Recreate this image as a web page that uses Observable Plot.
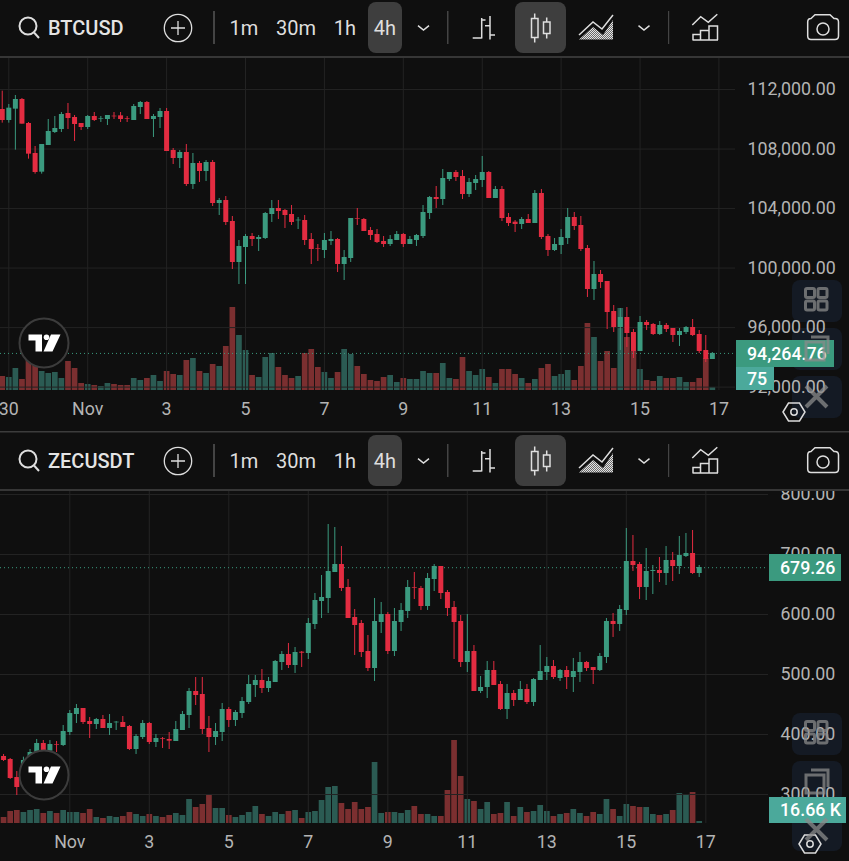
<!DOCTYPE html>
<html><head><meta charset="utf-8">
<script src="https://cdn.jsdelivr.net/npm/d3@7"></script>
<script src="https://cdn.jsdelivr.net/npm/@observablehq/plot@0.6"></script>
<style>
html,body{margin:0;padding:0;background:#0f0f0f;overflow:hidden}
#page{position:relative;width:849px;height:861px;overflow:hidden;background:#0f0f0f}
#page>svg,#page>div{position:absolute;left:0}
</style></head><body><div id="page"></div>
<script>
const FONT = "Roboto, 'Noto Sans', sans-serif";
const UP = "#3b9a7f", DOWN = "#e32c41", VOL_UP = "#2b5b53", VOL_DOWN = "#7b2f30", GRID = "#232323", LABEL = "#b4b4b4";

// BTCUSD, 4h candles, first candle 4h before 30 Oct 00:00
const btcStart = -1;
const btcOpen = [110656,109917,110679,111328,109715,107699,106445,108237,109111,109312,110387,110119,109715,109447,110186,110007,109984,110208,110231,110051,109917,110791,111127,109984,110119,110522,107901,107363,107766,105616,107027,106490,107095,104339,104541,103130,100375,101383,102122,101920,101987,103600,104003,103869,103600,103175,103197,101920,101315,101181,101786,101920,100240,100643,103331,103264,102525,102256,101786,101584,101853,102256,101584,101853,102122,103667,104743,104608,105952,106423,106154,104944,105683,105885,106423,104675,105280,103399,103085,102928,103264,102995,105011,102122,101181,101517,101987,103399,102861,101315,98560,99568,99098,97082,96007,96678,95670,94394,96343,96208,95536,96141,95939,95469,95670,96007,95536,94461,93856];
const btcHigh = [111888,110992,111597,111395,109783,108170,108304,109984,110186,110455,111059,110253,109715,110253,110455,110186,110253,110455,110455,110186,110992,111194,111194,110320,110723,110723,108035,107901,108304,107699,107162,107229,107229,104675,104810,103466,101853,102256,102323,102189,103735,104541,104541,103936,104205,103399,103533,102323,101584,102323,102458,101987,101181,103331,104003,103331,102726,102592,102122,102189,102458,102323,102122,102256,104205,104810,105482,106624,106423,106557,106557,106019,106221,107498,106490,105482,105482,103667,103197,103399,103600,105213,105280,102256,101987,102592,104003,103735,103466,101517,100442,99837,99098,97485,97283,97350,95872,96746,96477,96275,96410,96275,95939,95939,96074,96544,95805,95469,94326];
const btcLow = [109738,109738,107923,109671,107318,106311,106311,108237,109043,109111,109312,108506,109245,109312,109850,109783,109581,109984,109783,109783,109917,110320,109984,108775,109379,107834,106960,106691,105482,105280,105751,105818,104138,103533,102861,99904,98896,98896,101450,101114,101920,103063,103264,102659,102861,102592,101517,100240,100442,100643,101517,99703,99165,100375,102861,102458,101853,101651,101383,101450,101853,101383,101584,101450,101987,103264,104003,104205,105818,105818,104608,104743,105213,105415,104675,104675,103130,102794,102390,102592,102995,102995,101920,100778,101114,100912,101584,102525,101114,98023,97821,98627,95872,95670,94461,94663,93923,94394,95805,95469,95469,95670,94998,94730,95536,95402,94259,93655,93856];
const btcClose = [109917,110746,111328,109671,107654,106423,108304,109178,109379,110320,110051,109648,109447,110186,109917,110051,110253,110163,109984,110007,110858,111127,109984,110186,110522,107834,107363,107766,105616,107027,106490,107095,104339,104541,103063,100375,101450,102122,101920,102055,103667,104003,103802,103533,103063,103219,101853,101248,101271,101853,101920,100240,100711,103331,103287,102458,102189,101718,101584,101920,102256,101584,101920,102189,103735,104743,104608,106019,106423,106087,104944,105751,105952,106423,104675,105280,103331,102995,102928,103264,102995,105011,102055,101181,101584,102055,103399,102794,101248,98560,99568,99030,97015,96007,96678,95603,94394,96343,96141,95536,96141,95872,95469,95738,96007,95469,94394,93856,94264.76];
const btcVolume = [350,325,550,275,750,625,475,425,450,300,725,550,175,150,125,100,175,150,125,125,300,250,300,375,225,475,400,375,750,800,475,425,650,600,1100,2075,1375,1000,375,325,825,925,575,375,300,350,925,1025,575,450,300,450,1025,900,600,400,250,225,325,375,200,300,275,275,475,425,425,675,300,275,825,475,375,525,325,175,525,525,400,300,175,275,550,650,350,400,500,250,600,1675,1325,725,975,550,2050,1325,975,525,250,225,350,300,300,325,200,200,300,800,75];
const btcTicks = [92000,96000,100000,104000,108000,112000];
const btcLast = 94264.76;

// ZECUSDT, 4h candles, first candle 8h after 30 Oct 00:00
const zecStart = 2;
const zecOpen = [363.3,358.3,328.3,323.3,356.7,368.3,385,372.2,383.3,381.7,403.3,433.3,443.3,421.7,416.7,425,410,419.4,420,413.3,375,395,418.3,386.7,393.3,391.7,388.3,406.7,431.7,471.7,466.7,410,395,403.3,441.7,423.3,435,453.3,481.7,490,476.7,486.7,520,533.3,515,537.2,535,583.3,621.7,626.7,670,683.3,645,595,585,538.3,510,586.7,600,538.3,586.7,605,645,643.3,613.3,658.3,680,636.7,611.7,588.3,520,538.3,471.7,478.3,506.7,483.3,441.7,468.3,456.7,475,453.3,490,503.3,513.3,493.3,506.7,495,503.3,520,511.7,506.7,528.3,588.3,583.3,606.7,688.3,683.3,645,671.7,673.3,668.3,690,680,696.7,701.7,668.3];
const zecHigh = [366.7,360,338.3,362.2,375,391.7,390,390,388.3,415,440,450,443.3,428.3,426.7,431.7,433.3,421.7,430,415,400,423.3,420,400,395,403.3,421.7,438.3,476.7,495,495,430,418.3,451.7,445,440,461.7,498.3,498.3,508.3,495,523.3,538.3,551.7,545,538.3,593.3,635,665,750,745,713.3,658.3,608.3,590,565,626.7,620,603.3,610,618.3,656.7,670,646.7,668.3,683.3,680,640,621.7,598.3,600,548.3,496.7,521.7,521.7,488.3,483.3,473.3,488.3,483.3,493.3,548.3,528.3,523.3,508.3,513.3,526.7,536.7,521.7,511.7,535,593.3,601.7,615,743.3,731.7,686.7,710,681.7,695,713.3,703.3,730,735,740,681.7];
const zecLow = [355,325,298.3,315,351.1,365,367.8,367.8,370,380,398.3,418.3,416.7,393.3,408.3,410,398.3,406.7,411.7,373.3,366.7,391.7,383.3,378.3,376.7,375,388.3,406.7,410,448.3,400,370,381.7,388.3,411.7,413.3,426.7,450,461.7,468.3,470,486.7,506.7,510,501.7,511.7,525,575,593.3,601.7,670,638.3,593.3,531.7,528.3,505,488.3,568.3,533.3,530,571.7,593.3,625,606.7,606.7,638.3,625,596.7,525,511.7,503.3,471.7,468.3,460,481.7,440,425,446.7,456.7,450,446.7,490,490,491.7,488.3,475,470,486.7,505,483.3,505,518.3,561.7,571.7,598.3,671.7,625,623.3,633.3,653.3,648.3,655,666.7,695,666.7,661.7];
const zecClose = [356.7,326.7,311.7,356.7,370,385,372.2,383.3,382.2,405,435,443.3,420,416.7,425,410,418.3,420.6,411.7,375,396.7,418.3,386.7,393.3,392.2,388.9,408.3,433.3,471.7,465,408.3,395,405,441.7,423.3,436.7,455,483.3,490,476.7,488.3,521.7,533.3,515,536.7,535.5,585,623.3,628.3,671.7,683.3,643.3,593.3,581.7,536.7,510,588.3,600,538.3,588.3,606.7,645,643.9,613.3,660,680,635,610,586.7,520,538.3,471.7,478.3,506.7,481.7,441.7,468.3,456.7,475,453.3,491.7,505,513.3,495,506.7,495,505,520,510,506.7,530,588.3,583.3,608.3,688.3,681.7,645,671.7,673.3,668.3,690,680,698.3,701.7,668.3,678.3];
const zecVolume = [50,100,108.3,91.6,108.3,116.6,83.3,100,83.3,108.3,91.6,91.6,83.3,116.6,50,41.7,58.3,50,58.3,91.6,75,58.3,75,58.3,50,66.6,83.3,66.6,200,133.3,158.3,233.3,125,125,66.6,50,66.6,91.6,141.6,75,58.3,91.6,75,100,108.3,41.7,91.6,100,191.6,300,308.3,166.6,116.6,175,116.6,133.3,508.2,83.3,91.6,91.6,83.3,108.3,141.6,75,75,58.3,58.3,274.9,691.5,391.6,200,183.3,116.6,175,75,83.3,175,58.3,133.3,91.6,100,150,100,58.3,75,83.3,116.6,83.3,58.3,91.6,75,200,116.6,58.3,158.3,141.6,133.3,133.3,75,66.6,75,108.3,249.9,233.3,258.3,16.66];
const zecTicks = [300,400,500,600,700,800];
const zecLast = 678;

const dayTicks = ["2025-10-30","2025-11-01","2025-11-03","2025-11-05","2025-11-07","2025-11-09","2025-11-11","2025-11-13","2025-11-15","2025-11-17"].map(d => new Date(d + "T00:00:00Z"));
const dayLabels = ["30","Nov","3","5","7","9","11","13","15","17"];

const t0 = Date.UTC(2025, 9, 30), H4 = 4 * 3600e3;
const at = k => new Date(t0 + k * H4);
const rowsOf = (start, o, h, l, c, v) => o.map((d, i) => ({t: at(start + i), o: d, h: h[i], l: l[i], c: c[i], v: v[i]}));

const page = document.getElementById("page");
const NS = "http://www.w3.org/2000/svg";

function panel({rows, top, height, marginBottom, marginRight, kDomain, yDomain, volMax, ticks, last}) {
  const common = {width: 849, height, marginTop: 0, marginBottom, marginLeft: 0, marginRight,
    style: {background: "transparent", fontFamily: FONT}};
  const xDomain = kDomain.map(at);
  const up = rows.filter(d => d.c >= d.o), down = rows.filter(d => d.c < d.o);
  const vols = Plot.plot({...common, x: {type: "utc", domain: xDomain, axis: null}, y: {domain: [0, volMax], axis: null}, marks: [
    Plot.ruleX(up, {x: "t", y1: 0, y2: "v", stroke: VOL_UP, strokeWidth: 5.7, clip: true}),
    Plot.ruleX(down, {x: "t", y1: 0, y2: "v", stroke: VOL_DOWN, strokeWidth: 5.7, clip: true})
  ]});
  const price = Plot.plot({...common, x: {type: "utc", domain: xDomain}, y: {domain: yDomain}, marks: [
    Plot.gridX(dayTicks, {stroke: GRID, strokeOpacity: 1}),
    Plot.gridY(ticks, {stroke: GRID, strokeOpacity: 1}),
    Plot.ruleY([last], {stroke: UP, strokeDasharray: "1 3", strokeWidth: 1}),
    Plot.ruleX(up, {x: "t", y1: "l", y2: "h", stroke: UP, strokeWidth: 1, clip: true}),
    Plot.ruleX(down, {x: "t", y1: "l", y2: "h", stroke: DOWN, strokeWidth: 1, clip: true}),
    Plot.ruleX(up, {x: "t", y1: "o", y2: "c", stroke: UP, strokeWidth: 5, clip: true}),
    Plot.ruleX(down, {x: "t", y1: "o", y2: "c", stroke: DOWN, strokeWidth: 5, clip: true}),
    Plot.axisY(ticks, {anchor: "right", tickSize: 0, tickPadding: 12, label: null, fill: LABEL, fontSize: 17.8, tickFormat: d3.format(",.2f")}),
    Plot.axisX(dayTicks, {anchor: "bottom", tickSize: 0, tickPadding: 12, label: null, fill: LABEL, fontSize: 17.8, tickFormat: (d, i) => dayLabels[dayTicks.findIndex(t => +t === +d)]})
  ]});
  for (const p of [vols, price]) { p.style.position = "absolute"; p.style.top = top + "px"; p.style.left = "0"; }
  return [vols, price];
}

const cog = (x, y) => `<g fill="none" stroke="#dcdcdc" stroke-width="1.5"><path d="M${x-11} ${y} L${x-5.5} ${y-9} L${x+5.5} ${y-9} L${x+11} ${y} L${x+5.5} ${y+9} L${x-5.5} ${y+9} Z"/><circle cx="${x}" cy="${y}" r="3.2"/></g>`;

function under(tops) {
  return tops.map(t => `<rect x="792" y="${t}" width="50" height="42" rx="8" fill="#141a24"/>`).join("");
}
function floating(tops) {
  const [a, b, c] = tops;
  const col = "#8a8a8a";
  const sq = (x, y) => `<rect x="${x}" y="${y}" width="9" height="9" rx="1.5" fill="none" stroke="${col}" stroke-width="3"/>`;
  return `<g opacity=".75">${sq(805.5, a+8.5)}${sq(818, a+8.5)}${sq(805.5, a+21)}${sq(818, a+21)}
    <path d="M811 ${b+9} H828 V${b+26}" fill="none" stroke="${col}" stroke-width="3"/>
    <rect x="806" y="${b+14}" width="18" height="18" fill="none" stroke="${col}" stroke-width="3"/>
    <path d="M806 ${c+10} L827 ${c+31} M827 ${c+10} L806 ${c+31}" stroke="${col}" stroke-width="4"/></g>`;
}
function logo(dy) {
  return `<g transform="translate(0 ${dy})"><circle cx="44" cy="343" r="24.5" fill="#0f0f0f" stroke="#3c3c3c" stroke-width="2"/>
    <path d="M28.5 334.5 H42 V351.5 H35.5 V340.5 H28.5 Z" fill="#fff"/><circle cx="46.5" cy="337.3" r="2.8" fill="#fff"/>
    <path d="M51 334.5 H60.5 L52.5 351.5 H43.5 Z" fill="#fff"/></g>`;
}
function toolbar(dy, sym) {
  const s = 'stroke="#dedede" fill="none"';
  const tf = (x, t) => `<text x="${x}" y="35" text-anchor="middle" font-size="20" fill="#dedede">${t}</text>`;
  return `<g transform="translate(0 ${dy})" font-family="${FONT.replace(/'/g, "")}">
    <circle cx="28" cy="26" r="8.5" ${s} stroke-width="2"/><path d="M34 32.5 L39 38" ${s} stroke-width="2"/>
    <text x="48" y="35" font-size="20" font-weight="500" fill="#e4e4e4">${sym}</text>
    <circle cx="178" cy="28" r="13.7" ${s} stroke-width="1.3"/><path d="M171 28 H185 M178 21 V35" ${s} stroke-width="1.3"/>
    <rect x="213" y="11" width="2" height="33" fill="#444"/>
    ${tf(244, "1m")}${tf(296, "30m")}${tf(345, "1h")}
    <rect x="368" y="2" width="34" height="51" rx="8" fill="#3e3e3e"/>${tf(385, "4h")}
    <path d="M418 25.7 L423.5 30 L429 25.7" ${s} stroke-width="1.5"/>
    <rect x="447" y="11" width="1.5" height="33" fill="#444"/>
    <path d="M481.7 18 V38.5 M481.7 20 H485.5 M472.7 38 H481.7 M490 16 V39.5 M485 25.7 H490 M490 35 H495" ${s} stroke-width="1.5"/>
    <rect x="515" y="2" width="51" height="51" rx="8" fill="#3e3e3e"/>
    <rect x="531.5" y="18.5" width="6.5" height="19" ${s} stroke-width="1.5"/><path d="M534.7 13.5 V18.5 M534.7 37.5 V42.5" ${s} stroke-width="1.5"/>
    <rect x="543.5" y="22" width="6.5" height="11.5" ${s} stroke-width="1.5"/><path d="M546.7 17.5 V22 M546.7 33.5 V38.5" ${s} stroke-width="1.5"/>
    <path d="M579 35 L593 22 L602 29 L613 15" ${s} stroke-width="1.5"/>
    <path d="M579 39.5 L593 27 L603 35 L613 20 V39.5 Z" fill="url(#dots)"/>
    <path d="M638.5 25.7 L644 30 L649.5 25.7" ${s} stroke-width="1.5"/>
    <rect x="668" y="11" width="1.2" height="33" fill="#444"/>
    <path d="M692.3 25 L700.7 16.7 L708.3 22.3 L717.3 14.3" ${s} stroke-width="1.5"/>
    <path d="M693 40 V34.5 H700.5 V40 M700.5 40 V30.5 H709 V40 M709 40 V26 H717.5 V40 M692.5 40 H718" ${s} stroke-width="1.5"/>
    <path d="M811 18.5 L815 14.8 H830 L834 18.5 H835 Q838.5 18.5 838.5 22 V36 Q838.5 39.5 835 39.5 H811 Q807.7 39.5 807.7 36 V22 Q807.7 18.5 811 18.5 Z" ${s} stroke-width="1.5"/>
    <circle cx="823" cy="29" r="6" ${s} stroke-width="1.5"/></g>`;
}
function tag(x, y, w, h, fill, text, tx) {
  return `<rect x="${x}" y="${y}" width="${w}" height="${h}" fill="${fill}"/><text x="${tx}" y="${y + h / 2 + 6.2}" font-size="17.8" font-weight="500" fill="#fff" font-family="${FONT.replace(/'/g, "")}">${text}</text>`;
}
function layer(html) {
  const s = document.createElementNS(NS, "svg");
  s.setAttribute("width", 849); s.setAttribute("height", 861);
  s.style.position = "absolute"; s.style.top = "0"; s.style.left = "0";
  s.innerHTML = html;
  return s;
}

const btcPanel = panel({
  rows: rowsOf(btcStart, btcOpen, btcHigh, btcLow, btcClose, btcVolume),
  top: 58, height: 373, marginBottom: 41, marginRight: 114,
  kDomain: [-1.262, 110.52], yDomain: [91773, 114083], volMax: 8300,
  ticks: btcTicks, last: btcLast
});
const zecPanel = panel({
  rows: rowsOf(zecStart, zecOpen, zecHigh, zecLow, zecClose, zecVolume),
  top: 491, height: 370, marginBottom: 38, marginRight: 81,
  kDomain: [1.54, 117.46], yDomain: [251.67, 805], volMax: 2766,
  ticks: zecTicks, last: zecLast
});

const btcBtn = [280, 328, 376], zecBtn = [713, 761, 809];
page.append(layer(under(btcBtn) + under(zecBtn)));
page.append(...btcPanel, ...zecPanel);
page.append(layer(`
  <defs><pattern id="dots" width="2" height="2" patternUnits="userSpaceOnUse"><rect width="2" height="2" fill="#6a6a6a"/><rect width="1" height="1" fill="#e4e4e4"/><rect x="1" y="1" width="1" height="1" fill="#e4e4e4"/></pattern></defs>
  <rect x="0" y="56" width="849" height="2" fill="#363636"/>
  <rect x="0" y="431" width="849" height="1.5" fill="#3c3c3c"/>
  <rect x="0" y="489" width="849" height="2" fill="#363636"/>
  ${toolbar(0, "BTCUSD")}${toolbar(433, "ZECUSDT")}
  ${logo(0)}${logo(432)}
  ${tag(736, 340, 98, 27, UP, "94,264.76", 747)}
  ${tag(736, 367, 38, 23, "#4ba99b", "75", 747)}
  ${tag(769, 554, 72, 27, UP, "679.26", 780)}
  ${tag(769, 797, 77, 26, "#4ba99b", "16.66 K", 780)}
  ${cog(794, 412)}${cog(810, 844)}
  ${floating(btcBtn)}${floating(zecBtn)}
`));
</script></body></html>
